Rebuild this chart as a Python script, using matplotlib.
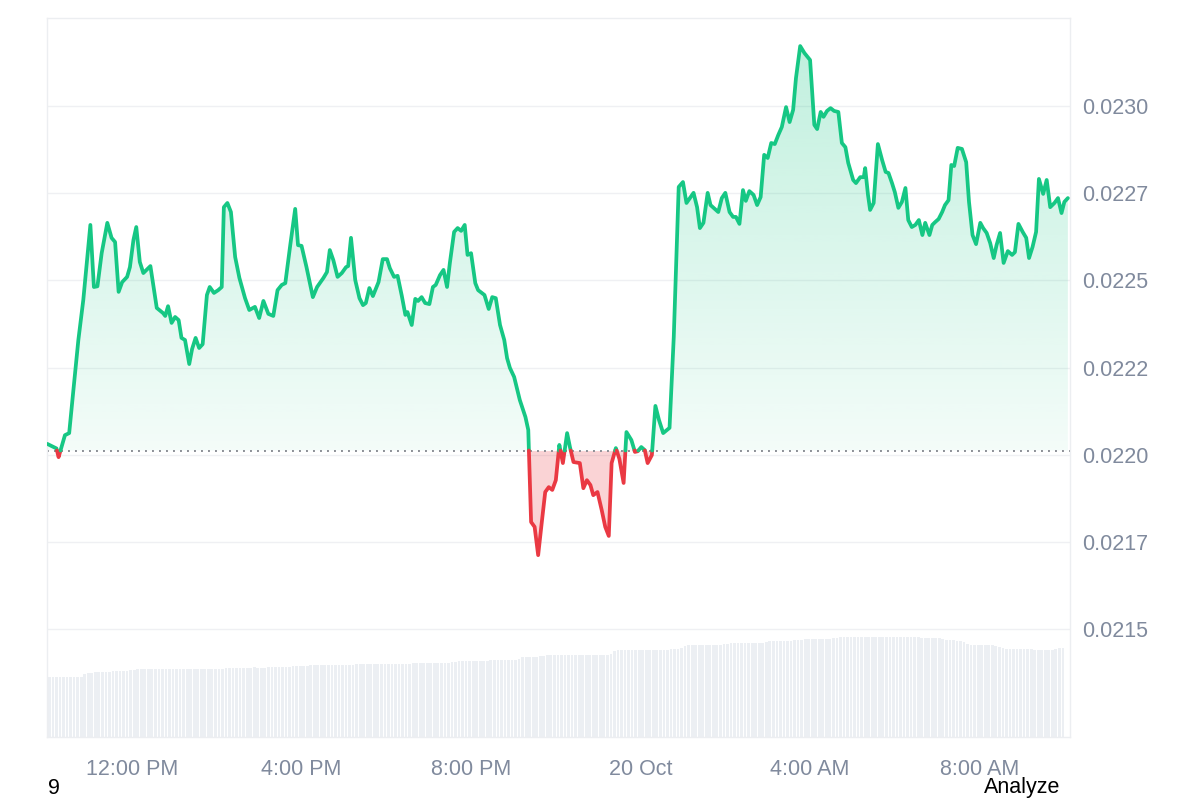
"""
24h price chart (area line, split at the opening price) with volume bars underneath.
"""
import numpy as np
import matplotlib
matplotlib.use("Agg")
import matplotlib.pyplot as plt
from matplotlib.patches import Polygon

plt.rcParams["font.family"] = ["Liberation Sans", "DejaVu Sans"]

# ── data ───────────────────────────────────────
# minutes after 19 Oct 10:00 AM
minutes = [
    0, 13, 16, 25, 31, 37, 44, 51, 61, 66, 71, 77, 85, 91, 96, 101, 106, 113, 117, 122,
    126, 131, 136, 146, 155, 164, 167, 171, 176, 181, 186, 190, 195, 201, 205, 210, 215, 220, 226, 230,
    236, 242, 247, 250, 255, 260, 266, 272, 280, 286, 294, 300, 306, 313, 320, 326, 332, 337, 344, 351,
    355, 360, 367, 376, 382, 391, 396, 400, 405, 411, 417, 423, 426, 430, 436, 442, 447, 451, 456, 461,
    469, 475, 481, 485, 491, 496, 502, 507, 510, 516, 521, 525, 530, 535, 541, 546, 550, 556, 561, 566,
    570, 576, 581, 586, 591, 595, 600, 606, 610, 619, 625, 630, 635, 641, 647, 651, 655, 661, 669, 677,
    681, 685, 690, 695, 700, 705, 710, 715, 720, 725, 730, 736, 740, 745, 754, 759, 764, 769, 773, 779,
    785, 790, 795, 799, 805, 810, 816, 820, 827, 832, 836, 841, 846, 850, 856, 861, 866, 872, 881, 887,
    894, 900, 905, 915, 920, 924, 929, 935, 939, 950, 955, 960, 966, 971, 975, 980, 985, 989, 994, 1000,
    1005, 1010, 1015, 1020, 1025, 1030, 1035, 1040, 1046, 1051, 1056, 1060, 1066, 1072, 1080, 1086, 1090, 1095, 1099, 1104,
    1109, 1114, 1120, 1125, 1130, 1134, 1141, 1145, 1151, 1156, 1158, 1162, 1165, 1170, 1176, 1182, 1187, 1191, 1196, 1200,
    1205, 1210, 1215, 1219, 1224, 1229, 1234, 1239, 1243, 1249, 1253, 1257, 1262, 1267, 1271, 1276, 1280, 1284, 1289, 1295,
    1301, 1305, 1310, 1315, 1321, 1325, 1330, 1335, 1340, 1344, 1349, 1354, 1360, 1366, 1370, 1375, 1381, 1386, 1390, 1395,
    1400, 1404, 1410, 1415, 1420, 1426, 1431, 1436, 1440, 1445,
]
prices = [
    0.022031, 0.022018, 0.021993, 0.022056, 0.022062, 0.022186, 0.022329, 0.022444, 0.022659, 0.022481,
    0.022483, 0.022578, 0.022665, 0.022622, 0.022610, 0.022467, 0.022495, 0.022510, 0.022538, 0.022616,
    0.022653, 0.022553, 0.022521, 0.022541, 0.022421, 0.022406, 0.022398, 0.022426, 0.022378, 0.022395,
    0.022386, 0.022335, 0.022329, 0.022260, 0.022303, 0.022335, 0.022306, 0.022317, 0.022458, 0.022481,
    0.022464, 0.022472, 0.022481, 0.022710, 0.022722, 0.022696, 0.022567, 0.022507, 0.022449, 0.022415,
    0.022424, 0.022392, 0.022441, 0.022404, 0.022398, 0.022472, 0.022487, 0.022492, 0.022601, 0.022705,
    0.022601, 0.022599, 0.022538, 0.022452, 0.022481, 0.022507, 0.022524, 0.022587, 0.022558, 0.022510,
    0.022521, 0.022538, 0.022541, 0.022622, 0.022501, 0.022449, 0.022429, 0.022435, 0.022478, 0.022455,
    0.022495, 0.022561, 0.022561, 0.022535, 0.022510, 0.022513, 0.022455, 0.022401, 0.022409, 0.022372,
    0.022447, 0.022441, 0.022452, 0.022435, 0.022432, 0.022481, 0.022487, 0.022515, 0.022530, 0.022481,
    0.022550, 0.022639, 0.022650, 0.022642, 0.022659, 0.022573, 0.022578, 0.022492, 0.022472, 0.022458,
    0.022418, 0.022452, 0.022449, 0.022372, 0.022329, 0.022277, 0.022249, 0.022223, 0.022157, 0.022108,
    0.022071, 0.021807, 0.021793, 0.021712, 0.021804, 0.021893, 0.021907, 0.021899, 0.021927, 0.022028,
    0.021976, 0.022062, 0.022022, 0.021979, 0.021976, 0.021904, 0.021927, 0.021913, 0.021884, 0.021893,
    0.021841, 0.021793, 0.021767, 0.021976, 0.022019, 0.021988, 0.021919, 0.022065, 0.022042, 0.022008,
    0.022010, 0.022022, 0.022013, 0.021976, 0.021999, 0.022140, 0.022100, 0.022062, 0.022077, 0.022338,
    0.022768, 0.022782, 0.022722, 0.022751, 0.022710, 0.022650, 0.022665, 0.022751, 0.022716, 0.022696,
    0.022736, 0.022751, 0.022696, 0.022682, 0.022682, 0.022662, 0.022759, 0.022728, 0.022756, 0.022745,
    0.022716, 0.022739, 0.022860, 0.022851, 0.022894, 0.022891, 0.022917, 0.022940, 0.022997, 0.022954,
    0.022989, 0.023080, 0.023172, 0.023152, 0.023132, 0.022946, 0.022934, 0.022983, 0.022969, 0.022986,
    0.022994, 0.022986, 0.022983, 0.022894, 0.022882, 0.022837, 0.022788, 0.022779, 0.022796, 0.022796,
    0.022822, 0.022745, 0.022702, 0.022722, 0.022891, 0.022845, 0.022811, 0.022808, 0.022779, 0.022753,
    0.022708, 0.022725, 0.022765, 0.022673, 0.022653, 0.022659, 0.022673, 0.022630, 0.022665, 0.022630,
    0.022659, 0.022667, 0.022676, 0.022696, 0.022716, 0.022730, 0.022831, 0.022828, 0.022880, 0.022877,
    0.022839, 0.022725, 0.022630, 0.022604, 0.022665, 0.022650, 0.022636, 0.022607, 0.022564, 0.022601,
    0.022636, 0.022550, 0.022584, 0.022573, 0.022581, 0.022662, 0.022639, 0.022622, 0.022564, 0.022596,
    0.022639, 0.022791, 0.022748, 0.022788, 0.022710, 0.022722, 0.022736, 0.022693, 0.022725, 0.022736,
]
open_price = 0.022012

# volume, one bar per 5 minutes (one row = one hour)
volume = [
    60, 60, 60, 60, 60, 60, 60, 60, 60, 60, 63, 64,
    64, 65, 65, 65, 65, 65, 66, 66, 66, 66.5, 66.5, 67,
    67, 68, 68, 68, 68, 68, 68, 68, 68.5, 68, 68, 68,
    68, 68, 68, 68.5, 68.5, 68, 68, 68.5, 68.5, 68.5, 68, 68.5,
    68.5, 68.5, 69, 69, 69.5, 69.5, 69.5, 69.5, 69.5, 69.5, 70, 69.5,
    69.5, 69.5, 70, 70, 70.5, 70.5, 70.5, 70.5, 70.5, 71, 71, 71,
    71, 71.5, 72.5, 72.5, 72.5, 72.5, 72.5, 72.5, 72.5, 72.5, 72.5, 72.5,
    72.5, 72.5, 72.5, 73, 73, 73, 73, 73, 73, 73, 73.5, 73.5,
    73.5, 73.5, 73.5, 73.5, 73.5, 73.5, 73.5, 74, 74, 74, 74, 74,
    74, 74, 74, 74, 74.5, 74.5, 75, 75, 76, 76, 76, 76,
    76, 76, 76, 76, 76.5, 77, 77, 77, 77, 77, 77, 77,
    77.5, 78, 80, 80, 80, 80, 80.5, 81, 81.5, 82, 82, 82,
    82, 82, 82, 82, 82, 82, 82, 82.5, 82.5, 82.5, 82.5, 82.5,
    82.5, 82.5, 82.5, 83, 86, 87, 87, 87, 87, 87, 87, 87,
    87, 87, 87, 87, 87, 87, 87.5, 87.5, 88, 88, 88, 89,
    91, 92, 92, 92, 92, 92, 92, 92, 92.5, 92.5, 92.5, 93,
    93.5, 94, 94, 94, 94, 94, 94, 94, 94, 94.5, 94.5, 95,
    96, 96.5, 96.5, 96.5, 96.5, 96.5, 96.5, 97, 97, 97.5, 98, 98,
    98, 98, 98, 98, 98, 98, 99, 99.5, 100, 100, 100, 100,
    100, 100, 100, 100, 100, 100, 100, 100, 100, 100.5, 100.5, 100,
    100, 100, 100, 100, 100, 100, 100, 99.5, 99.5, 99.5, 99.5, 99,
    99, 98, 97, 97, 97, 96.5, 96.5, 95, 93, 92, 92, 92,
    92, 92, 92, 92, 91, 90, 89, 88, 88, 88, 88, 88,
    88, 88, 88, 87, 87, 87, 87, 87, 87, 88, 89, 89,
]

price_ticks = [0.02150, 0.02175, 0.02200, 0.02225, 0.02250, 0.02275, 0.02300]
price_tick_labels = ["0.0215", "0.0217", "0.0220", "0.0222", "0.0225", "0.0227", "0.0230"]
time_ticks = [120, 360, 600, 840, 1080, 1320]
time_tick_labels = ["12:00 PM", "4:00 PM", "8:00 PM", "20 Oct", "4:00 AM", "8:00 AM"]

# ── style ──────────────────────────────────────
C_UP    = "#16c784"
C_DOWN  = "#ea3943"
C_GRID  = "#eff0f3"
C_FRAME = "#eceef1"
C_TICK  = "#808a9d"
C_VOL   = "#eceff3"
FS      = 15.5

t = np.array(minutes, dtype=float)
p = np.array(prices, dtype=float)

# insert the points where the line crosses the opening price
xs, ys = [t[0]], [p[0]]
for i in range(1, len(t)):
    a, b = p[i - 1] - open_price, p[i] - open_price
    if a * b < 0:
        f = a / (a - b)
        xs.append(t[i - 1] + f * (t[i] - t[i - 1]))
        ys.append(open_price)
    xs.append(t[i])
    ys.append(p[i])
xs, ys = np.array(xs), np.array(ys)

fig = plt.figure(figsize=(12, 8), dpi=100, facecolor="white")
ax = fig.add_axes([47 / 1200, 63 / 800, 1023 / 1200, 719 / 800])
ax_vol = ax.twinx()
ax.set_zorder(2)
ax.patch.set_visible(False)
ax_vol.set_zorder(1)

XMIN, XMAX = -0.4, 1448
YMIN, YMAX = 0.0211904, 0.0232525

# volume bars
vol_minutes = np.arange(len(volume)) * 5 + 3
ax_vol.bar(vol_minutes, volume, width=3.9, color=C_VOL, linewidth=0)
ax_vol.set_ylim(0, 719)
ax_vol.set_yticks([])
for spine in ax_vol.spines.values():
    spine.set_visible(False)

# grid
for yv in price_ticks:
    ax.axhline(yv, color=C_GRID, lw=1.0, zorder=0)

# green gradient area above the open
upper = np.maximum(ys, open_price)
poly_up = Polygon(np.column_stack([np.r_[xs, xs[::-1]],
                                   np.r_[upper, np.full(len(xs), open_price)]]),
                  closed=True, facecolor="none", edgecolor="none")
ax.add_patch(poly_up)
grad = np.zeros((256, 1, 4))
grad[..., :3] = matplotlib.colors.to_rgb(C_UP)
grad[:, 0, 3] = np.linspace(0.05, 0.28, 256)
img = ax.imshow(grad, extent=[XMIN, XMAX, open_price, YMAX], origin="lower",
                aspect="auto", interpolation="bicubic", zorder=1)
img.set_clip_path(poly_up)

# red area below the open
lower = np.minimum(ys, open_price)
ax.fill_between(xs, lower, open_price, color=C_DOWN, alpha=0.22, linewidth=0, zorder=1)

# opening price dotted line
ax.axhline(open_price, color="#8c8f96", lw=1.4, ls=(0, (1, 2.6)), zorder=2)

# price line, coloured by side of the open
above = (ys[:-1] + ys[1:]) / 2 >= open_price
start = 0
for i in range(1, len(above) + 1):
    if i == len(above) or above[i] != above[start]:
        ax.plot(xs[start:i + 1], ys[start:i + 1], color=C_UP if above[start] else C_DOWN,
                lw=2.7, solid_joinstyle="round", solid_capstyle="round", zorder=3)
        start = i

ax.set_xlim(XMIN, XMAX)
ax.set_ylim(YMIN, YMAX)
ax_vol.set_xlim(XMIN, XMAX)

ax.yaxis.tick_right()
ax.set_yticks(price_ticks)
ax.set_yticklabels(price_tick_labels)
ax.set_xticks(time_ticks)
ax.set_xticklabels(time_tick_labels)
ax.tick_params(axis="y", length=0, pad=8.5, labelsize=FS, labelcolor=C_TICK)
ax.tick_params(axis="x", length=0, pad=16, labelsize=FS, labelcolor=C_TICK)
for spine in ax.spines.values():
    spine.set_edgecolor(C_FRAME)
    spine.set_linewidth(1.0)

fig.text(48 / 1200, 1 - 788 / 800, "9", ha="left", va="center", fontsize=FS, color="black")
fig.text(1060 / 1200, 1 - 788 / 800, "Analyze", ha="right", va="center", fontsize=FS, color="black")

fig.savefig("out.png", dpi=100, facecolor="white")
